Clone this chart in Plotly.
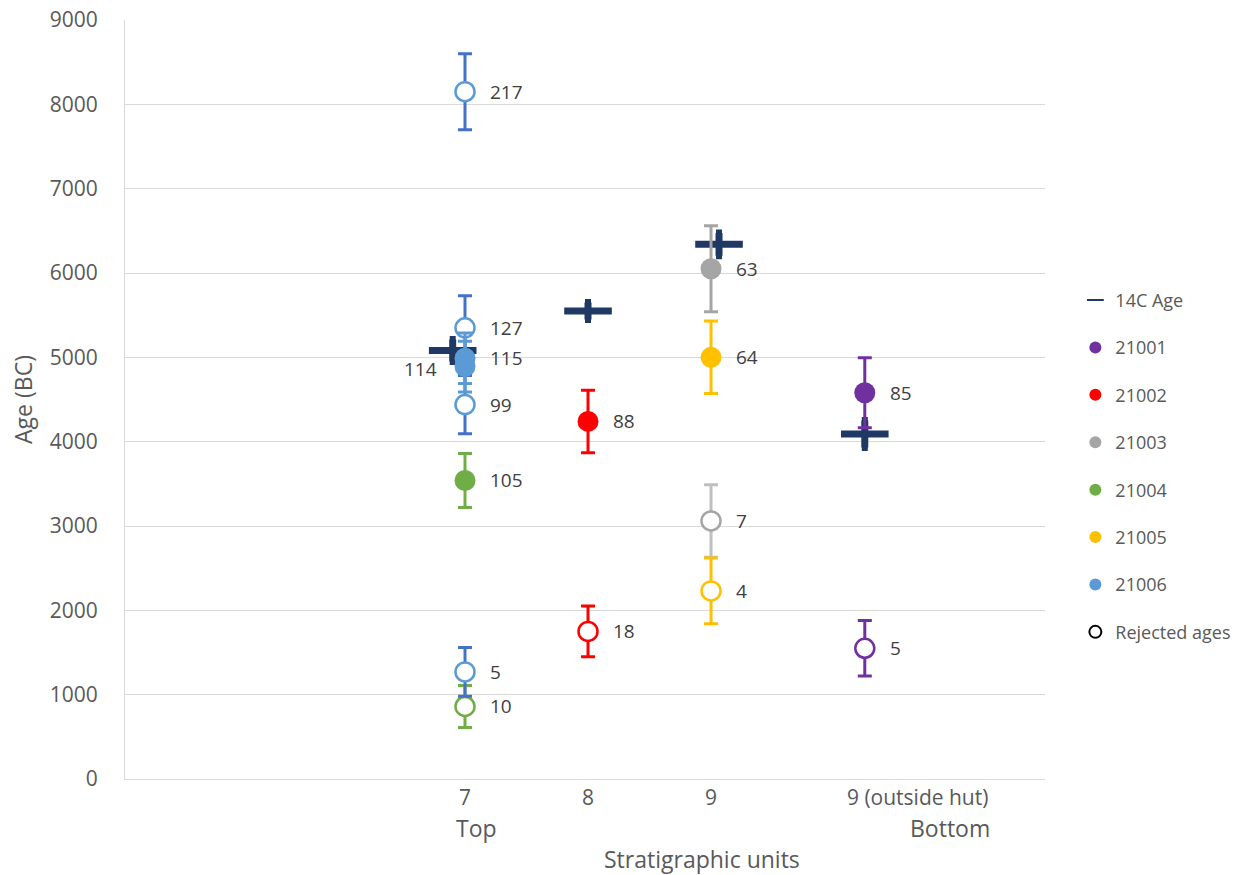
import plotly.graph_objects as go

# ---------------- data ----------------
units = ["7", "8", "9", "9 (outside hut)"]
unit_notes = ["Top", "", "", "Bottom"]
y_ticks = [0, 1000, 2000, 3000, 4000, 5000, 6000, 7000, 8000, 9000]

samples = ["21001", "21002", "21003", "21004", "21005", "21006"]
sample_colors = ["#7030A0", "#FF0000", "#A5A5A5", "#70AD47", "#FFC000", "#5B9BD5"]

# OSL/TL ages (BC): one row per dated point
pt_sample = ["21006", "21006", "21006", "21006", "21006", "21006", "21004", "21004",
             "21002", "21002",
             "21003", "21005", "21003", "21005",
             "21001", "21001"]
pt_unit = ["7", "7", "7", "7", "7", "7", "7", "7",
           "8", "8",
           "9", "9", "9", "9",
           "9 (outside hut)", "9 (outside hut)"]
pt_age = [8150, 5350, 4990, 4890, 4440, 1270, 3540, 860,
          4240, 1750,
          6050, 5000, 3060, 2230,
          4580, 1550]
pt_err = [450, 380, 300, 300, 345, 290, 320, 250,
          370, 300,
          510, 430, 430, 390,
          415, 330]
pt_label = ["217", "127", "115", "114", "99", "5", "105", "10",
            "88", "18",
            "63", "64", "7", "4",
            "85", "5"]
pt_rejected = [True, True, False, False, True, True, False, True,
               False, True,
               False, False, True, True,
               False, True]

c14_unit = ["7", "8", "9", "9 (outside hut)"]
c14_age = [5080, 5550, 6340, 4090]
c14_err = [130, 100, 135, 160]

# ---------------- layout helpers ----------------
unit_x = {"7": 7.0, "8": 8.0, "9": 9.0, "9 (outside hut)": 10.25}
unit_tick_x = {"7": 7.0, "8": 8.0, "9": 9.0, "9 (outside hut)": 10.68}
note_x = {"7": 7.09, "9 (outside hut)": 10.94}
c14_shift = {"7": -0.1, "8": 0.0, "9": 0.065, "9 (outside hut)": 0.0}
label_left = {"114"}
rej_bar_color = {"21006": "#4472C4", "21003": "#BFBFBF"}

GRAY = "#595959"
FONT = "Open Sans, Liberation Sans, sans-serif"

fig = go.Figure()

# 14C ages
fig.add_trace(go.Scatter(
    x=[unit_x[u] + c14_shift[u] for u in c14_unit], y=c14_age,
    mode="markers", name="14C Age", legendgroup="c14",
    marker=dict(symbol="line-ew", size=34, line=dict(color="#203864", width=7), color="#203864"),
    error_y=dict(type="data", array=c14_err, color="#203864", thickness=7, width=3),
))

annotations = []
for s, col in zip(samples, sample_colors):
    for rej in (True, False):
        idx = [i for i in range(len(pt_age)) if pt_sample[i] == s and pt_rejected[i] == rej]
        if not idx:
            if not rej:
                fig.add_trace(go.Scatter(x=[None], y=[None], mode="markers", name=s,
                                         legendgroup=s, marker=dict(size=15, color=col)))
            continue
        xs = [unit_x[pt_unit[i]] for i in idx]
        ys = [pt_age[i] for i in idx]
        es = [pt_err[i] for i in idx]
        if rej:
            fig.add_trace(go.Scatter(
                x=xs, y=ys, mode="markers", name=s + " rejected", showlegend=False,
                legendgroup=s,
                marker=dict(symbol="circle", size=19, color="white", line=dict(color=col, width=2.5)),
                error_y=dict(type="data", array=es, color=rej_bar_color.get(s, col), thickness=3, width=7),
            ))
        else:
            fig.add_trace(go.Scatter(
                x=xs, y=ys, mode="markers", name=s, legendgroup=s,
                marker=dict(symbol="circle", size=21, color=col),
                error_y=dict(type="data", array=es, color=col, thickness=3, width=7),
            ))
        for i in idx:
            left = pt_label[i] in label_left
            annotations.append(dict(
                x=unit_x[pt_unit[i]], y=pt_age[i], xref="x", yref="y",
                text=pt_label[i], showarrow=False,
                xanchor="right" if left else "left",
                xshift=-26 if left else 23, yshift=-2 if left else 0,
                font=dict(family=FONT, size=19, color="#404040"),
            ))

# legend entry for rejected ages
fig.add_trace(go.Scatter(x=[None], y=[None], mode="markers", name="Rejected ages",
                         legendgroup="rej",
                         marker=dict(symbol="circle-open", size=13, color="black",
                                     line=dict(color="black", width=4))))

# unit notes (Top / Bottom)
for u, note in zip(units, unit_notes):
    if note:
        annotations.append(dict(
            x=note_x[u], y=0, xref="x", yref="paper",
            text=note, showarrow=False, yanchor="middle", yshift=-49,
            font=dict(family=FONT, size=23, color=GRAY)))

# x axis title (placed off-centre as in the original)
annotations.append(dict(
    x=0.627, y=0, xref="paper", yref="paper", text="Stratigraphic units",
    showarrow=False, yanchor="middle", yshift=-80,
    font=dict(family=FONT, size=23, color=GRAY)))

fig.update_layout(
    width=1254, height=875,
    paper_bgcolor="white", plot_bgcolor="white",
    margin=dict(l=125, r=209, t=20, b=96),
    font=dict(family=FONT, color=GRAY, size=16),
    showlegend=True,
    legend=dict(x=1.033, y=0.655, xanchor="left", yanchor="top",
                font=dict(family=FONT, size=18, color=GRAY),
                tracegroupgap=21, itemsizing="constant", traceorder="grouped"),
    annotations=annotations,
)
fig.update_xaxes(
    range=[4.236, 11.715], showgrid=False, zeroline=False, automargin=False,
    tickvals=[unit_tick_x[u] for u in units], ticktext=units,
    tickfont=dict(family=FONT, size=21, color=GRAY), ticks="",
    ticklabeloverflow="allow",
    showline=True, linecolor="#D9D9D9", linewidth=1,
)
fig.update_yaxes(
    range=[0, 9000], tickmode="array", tickvals=y_ticks, ticktext=[str(v) for v in y_ticks],
    showgrid=True, gridcolor="#D9D9D9", gridwidth=1, zeroline=False, automargin=False,
    showline=True, linecolor="#D9D9D9", linewidth=1, mirror=False,
    tickfont=dict(family=FONT, size=21, color=GRAY), ticks="",
    ticklabelstandoff=22, ticklabeloverflow="allow",
    title=dict(text="Age (BC)", standoff=10, font=dict(family=FONT, size=23, color=GRAY)),
)

fig.write_html("out.html", config={"displayModeBar": False},
               post_script="document.body.style.margin='0px';")
